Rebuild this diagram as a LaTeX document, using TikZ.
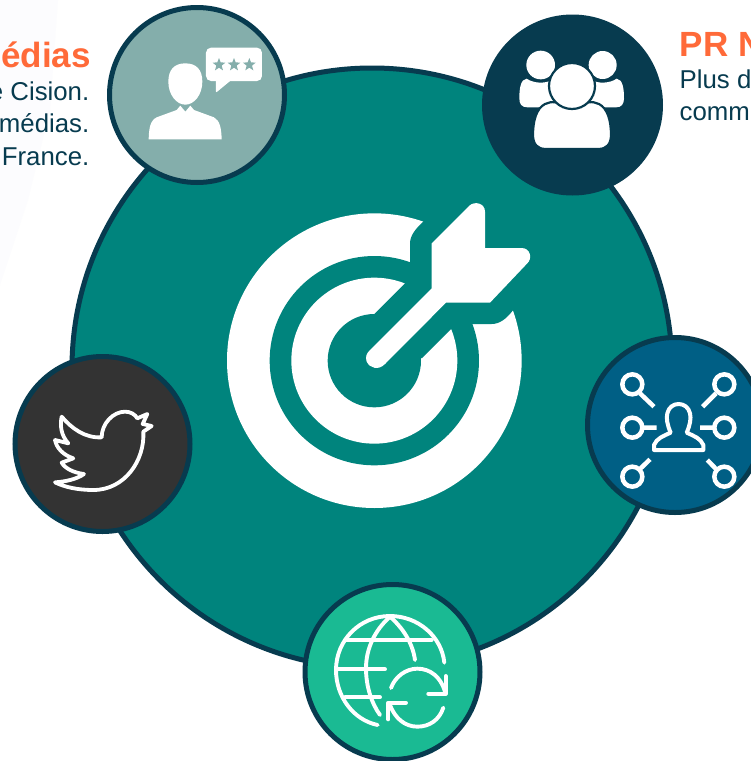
\documentclass[tikz,border=0pt]{standalone}
\usepackage{fontspec}
\setmainfont{Liberation Sans}
\definecolor{cOrange}{HTML}{FF6A39}
\definecolor{cNavy}{HTML}{073B4F}
\definecolor{cTeal}{HTML}{00847D}
\definecolor{cSage}{HTML}{84AEAB}
\definecolor{cBlue}{HTML}{005F85}
\definecolor{cGreen}{HTML}{1ABA93}
\definecolor{cDark}{HTML}{333333}
\definecolor{cPale}{HTML}{FCFCFE}
\tikzset{
  disc/.style={circle,draw=cNavy,line width=5pt,inner sep=0pt,minimum size=#1},
  headtxt/.style={font=\fontsize{35}{35}\selectfont\bfseries,text=cOrange,inner sep=0pt},
  bodytxt/.style={font=\fontsize{25.8}{25.8}\selectfont,text=cNavy,inner sep=0pt},
  zoomed/.style={x=0.33333pt,y=-0.33333pt},
  iconline/.style={draw=white,line width=#1,line cap=round,line join=round},
}
\begin{document}
\begin{tikzpicture}[x=1pt,y=-1pt]
\useasboundingbox (0,0) rectangle (751,761);
\clip (0,0) rectangle (751,761);
\fill[white] (0,0) rectangle (751,761);
\fill[cPale] (0,0) -- (58,0) -- (50,110) -- (28,200) -- (0,285) -- cycle;

% main disc
\node[disc=600pt,fill=cTeal] (main) at (372,368) {};

% target
\begin{scope}[shift={(210,190)},zoomed]
  \fill[white] (493,512) circle[radius=442];
  \fill[cTeal] (493,512) circle[radius=314];
  \fill[white] (493,512) circle[radius=249];
  \fill[cTeal] (493,512) circle[radius=140];
  \fill[cTeal] (493,372) -- (600,265) -- (600,160)
     .. controls (600,135) and (620,113) .. (640,95)
     -- (700,30) -- (975,30) -- (975,300) -- (908,362)
     .. controls (890,385) and (870,402) .. (845,402)
     -- (738,402) -- (635,505) -- cycle;
  \fill[white] (665,160) -- (778,47) .. controls (795,32) and (825,40) .. (825,65)
     -- (825,174) -- (935,174) .. controls (960,174) and (970,205) .. (950,222)
     -- (840,338) -- (708,338) -- (525,522)
     .. controls (505,542) and (480,535) .. (470,515)
     .. controls (465,500) and (470,490) .. (480,480)
     -- (665,295) -- cycle;
\end{scope}

% top-left: person with rating bubble
\node[disc=175pt,fill=cSage] (press) at (197,95) {};
\begin{scope}[zoomed]
  \fill[white] (556,190) .. controls (522,190) and (505,210) .. (505,245)
     .. controls (505,285) and (530,314) .. (556,314)
     .. controls (582,314) and (607,285) .. (607,245)
     .. controls (607,210) and (590,190) .. (556,190) -- cycle;
  \fill[white] (446,418) .. controls (447,385) and (450,362) .. (470,352)
     -- (530,330) -- (541,317) -- (556,335) -- (571,317) -- (582,330) -- (642,352)
     .. controls (660,362) and (664,385) .. (665,418) -- cycle;
  \fill[white,rounded corners=5pt] (618,143) rectangle (786,243);
  \fill[white,rounded corners=1pt] (648,235) -- (648,278) -- (700,235) -- cycle;
  \foreach \sx in {657,702,748}{
    \fill[cSage] (\sx,174) -- (\sx+5,187) -- (\sx+19,188) -- (\sx+8,197) -- (\sx+12,211)
       -- (\sx,203) -- (\sx-12,211) -- (\sx-8,197) -- (\sx-19,188) -- (\sx-5,187) -- cycle;
  }
\end{scope}

% top-right: group
\node[circle,fill=cNavy,inner sep=0pt,minimum size=181pt] (group) at (572.5,105) {};
\begin{scope}[shift={(470,0)},zoomed]
  \fill[white] (212,195) circle[radius=43];
  \fill[white] (398,195) circle[radius=42];
  \fill[white] (148,295) .. controls (148,265) and (152,238) .. (170,236)
     .. controls (190,250) and (225,252) .. (245,240) -- (260,310) -- (205,322) -- (172,322)
     .. controls (155,322) and (148,312) .. (148,295) -- cycle;
  \fill[white] (462,295) .. controls (462,265) and (458,238) .. (440,236)
     .. controls (420,250) and (385,252) .. (365,240) -- (350,310) -- (405,322) -- (438,322)
     .. controls (455,322) and (462,312) .. (462,295) -- cycle;
  \fill[white,draw=cNavy,line width=2.2pt] (189,405) .. controls (189,360) and (200,325) .. (225,312)
     .. controls (245,303) and (262,303) .. (306,325)
     .. controls (350,303) and (367,303) .. (387,312)
     .. controls (412,325) and (423,360) .. (423,405)
     .. controls (423,432) and (410,447) .. (385,447)
     -- (227,447) .. controls (202,447) and (189,432) .. (189,405) -- cycle;
  \fill[white,draw=cNavy,line width=2.2pt] (306,258) circle[radius=69];
\end{scope}

% right: network person
\node[disc=175pt,fill=cBlue] (network) at (675,425) {};
\begin{scope}[shift={(580,330)},zoomed]
  \foreach \cx/\cy in {157/163,433/163,157/293,433/293,157/440,433/440}{
    \draw[draw=white,line width=4.5pt] (\cx,\cy) circle[radius=30];
  }
  \draw[draw=white,line width=4.5pt] (180,190) -- (222,230) (408,190) -- (368,230)
     (185,293) -- (230,293) (360,293) -- (405,293)
     (180,417) -- (210,388) (408,417) -- (382,390);
  \draw[draw=white,line width=4pt,line join=round] (222,360) -- (222,345)
     .. controls (230,325) and (250,318) .. (272,308)
     .. controls (262,285) and (258,265) .. (262,250)
     .. controls (266,232) and (280,222) .. (296,222)
     .. controls (312,222) and (326,232) .. (330,250)
     .. controls (334,265) and (330,285) .. (320,308)
     .. controls (342,318) and (362,325) .. (370,345)
     -- (370,360) -- cycle;
\end{scope}

% bottom: globe and refresh
\node[disc=175pt,fill=cGreen] (globe) at (392.5,672) {};
\begin{scope}[shift={(300,580)},zoomed]
  \draw[iconline=3.9pt] (433,248) .. controls (425,170) and (355,108) .. (270,108)
     .. controls (180,108) and (108,180) .. (108,270)
     .. controls (108,350) and (160,420) .. (233,435);
  \draw[iconline=3.9pt] (270,110) .. controls (225,150) and (198,205) .. (198,265)
     .. controls (198,320) and (215,370) .. (240,405);
  \draw[iconline=3.9pt] (270,110) .. controls (310,145) and (338,190) .. (345,240);
  \draw[iconline=3.9pt] (140,180) -- (395,180) (115,268) -- (255,268) (135,352) -- (240,352);
  \draw[iconline=3.9pt] (273,324) .. controls (285,290) and (318,266) .. (352,266)
     .. controls (390,266) and (422,290) .. (435,335);
  \draw[iconline=3.9pt] (437,288) -- (437,341) -- (385,341);
  \draw[iconline=3.9pt] (430,383) .. controls (418,420) and (388,440) .. (352,440)
     .. controls (315,440) and (285,415) .. (270,375);
  \draw[iconline=3.9pt] (265,418) -- (265,368) -- (318,368);
\end{scope}

% left: bird
\node[disc=175pt,fill=cDark] (bird) at (102.5,444) {};
\begin{scope}[shift={(10,350)},zoomed]
  \draw[iconline=3.8pt] (155,200) .. controls (185,235) and (225,265) .. (275,262)
     .. controls (275,220) and (310,185) .. (345,185)
     .. controls (362,185) and (375,193) .. (382,205)
     -- (412,192) -- (398,222) -- (425,228) -- (400,245)
     .. controls (405,330) and (345,420) .. (250,420)
     .. controls (205,420) and (165,412) .. (135,397)
     .. controls (165,395) and (200,388) .. (222,372)
     .. controls (190,368) and (165,355) .. (155,338)
     -- (190,325)
     .. controls (160,315) and (140,295) .. (135,270)
     -- (175,280)
     .. controls (152,255) and (150,225) .. (155,200) -- cycle;
\end{scope}

% texts
\node[headtxt,anchor=base east] (t1) at (91,67) {édias};
\node[bodytxt,anchor=base east] (t2) at (89.5,100) {e Cision.};
\node[bodytxt,anchor=base east] (t3) at (89.5,132.5) {médias.};
\node[bodytxt,anchor=base east] (t4) at (89.5,165) {France.};
\node[headtxt,anchor=base west] (t5) at (679.5,56) {PR N};
\node[bodytxt,anchor=base west] (t6) at (679.5,88.5) {Plus d};
\node[bodytxt,anchor=base west] (t7) at (679.5,120) {comm};
\end{tikzpicture}
\end{document}
